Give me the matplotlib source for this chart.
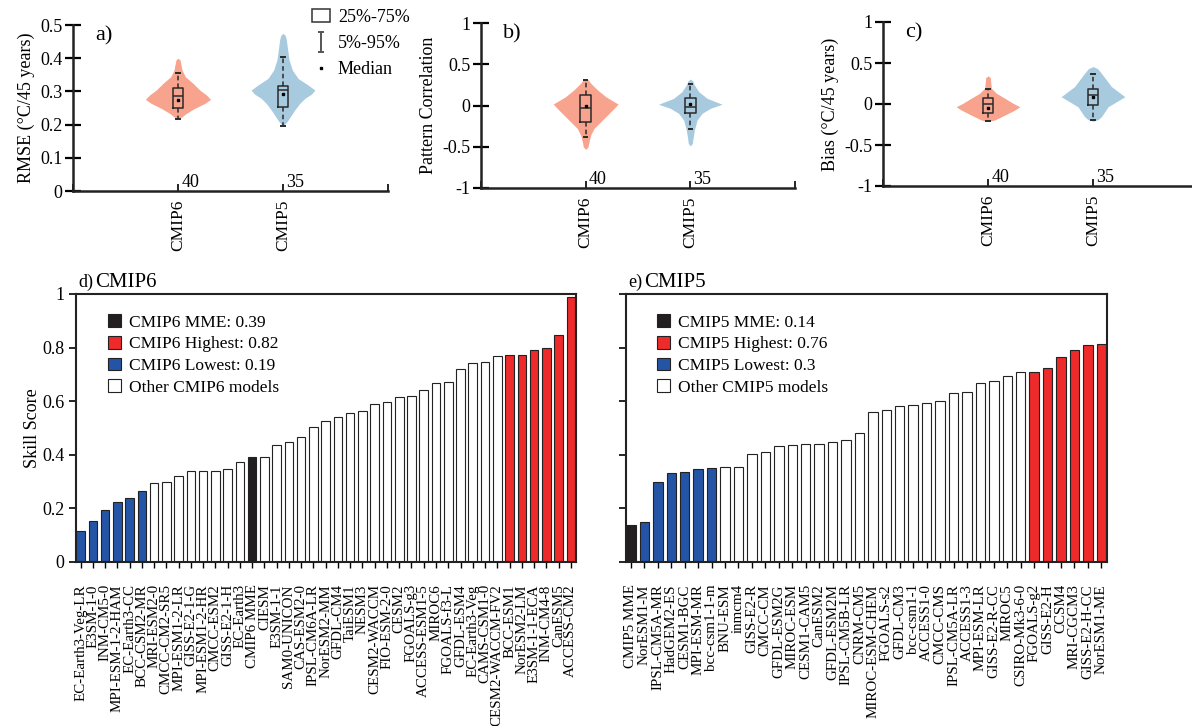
import numpy as np
import matplotlib
matplotlib.use('Agg')
import matplotlib.pyplot as plt
from matplotlib.patches import Patch
from matplotlib.lines import Line2D
from matplotlib.path import Path

plt.rcParams['font.family'] = ['Liberation Serif', 'DejaVu Serif']

# ---------------- top panels (a-c) ----------------
groups = ['CMIP6', 'CMIP5']
counts = [40, 35]
violin_colors = ['#F8A38D', '#A8CADF']

# violin outlines: value levels and relative half-widths
rmse6_lev = [0.216, 0.222, 0.234, 0.249, 0.264, 0.276, 0.289, 0.304, 0.324, 0.344, 0.364, 0.385, 0.395, 0.400]
rmse6_wid = [0, 10, 25, 50, 80, 97, 85, 65, 45, 22, 12, 8, 6, 0]
rmse5_lev = [0.196, 0.209, 0.224, 0.244, 0.264, 0.279, 0.292, 0.304, 0.319, 0.339, 0.364, 0.395, 0.425, 0.455, 0.468, 0.475]
rmse5_wid = [0, 12, 22, 35, 50, 65, 85, 95, 75, 45, 28, 18, 14, 10, 7, 0]
corr6_lev = [-0.533, -0.50, -0.44, -0.359, -0.278, -0.197, -0.116, -0.035, 0.018, 0.046, 0.107, 0.19, 0.27, 0.31, 0.33]
corr6_wid = [0, 7, 10, 15, 25, 45, 65, 85, 97, 85, 60, 35, 15, 8, 0]
corr5_lev = [-0.49, -0.46, -0.40, -0.298, -0.176, -0.095, -0.034, 0.015, 0.039, 0.087, 0.168, 0.25, 0.30, 0.32]
corr5_wid = [0, 6, 8, 12, 20, 35, 60, 95, 80, 50, 25, 12, 7, 0]
bias6_lev = [-0.212, -0.195, -0.175, -0.135, -0.073, -0.033, 0.008, 0.07, 0.131, 0.192, 0.273, 0.32, 0.343]
bias6_wid = [0, 20, 30, 50, 80, 95, 75, 50, 25, 10, 8, 7, 0]
bias5_lev = [-0.21, -0.19, -0.155, -0.094, -0.033, 0.028, 0.089, 0.151, 0.212, 0.294, 0.375, 0.43, 0.457]
bias5_wid = [0, 15, 25, 35, 45, 70, 95, 75, 55, 40, 25, 14, 0]

# box statistics (CMIP6, CMIP5)
rmse_q1 = [0.249, 0.254]
rmse_q3 = [0.309, 0.316]
rmse_line = [0.286, 0.303]
rmse_median = [0.275, 0.292]
rmse_p5 = [0.218, 0.197]
rmse_p95 = [0.354, 0.405]

corr_q1 = [-0.197, -0.095]
corr_q3 = [0.125, 0.093]
corr_line = [-0.033, -0.014]
corr_median = [0.0, 0.013]
corr_p5 = [-0.38, -0.28]
corr_p95 = [0.31, 0.26]

bias_q1 = [-0.106, -0.014]
bias_q3 = [0.068, 0.184]
bias_line = [0.0, 0.108]
bias_median = [-0.045, 0.08]
bias_p5 = [-0.204, -0.19]
bias_p95 = [0.18, 0.367]

# ---------------- bottom panels (d, e) ----------------
cmip6_models = ['EC-Earth3-Veg-LR', 'E3SM-1-0', 'INM-CM5-0', 'MPI-ESM-1-2-HAM', 'EC-Earth3-CC',
                'BCC-CSM2-MR', 'MRI-ESM2-0', 'CMCC-CM2-SR5', 'MPI-ESM1-2-LR', 'GISS-E2-1-G',
                'MPI-ESM1-2-HR', 'CMCC-ESM2', 'GISS-E2-1-H', 'EC-Earth3', 'CMIP6 MME', 'CIESM',
                'E3SM-1-1', 'SAM0-UNICON', 'CAS-ESM2-0', 'IPSL-CM6A-LR', 'NorESM2-MM', 'GFDL-CM4',
                'TaiESM1', 'NESM3', 'CESM2-WACCM', 'FIO-ESM-2-0', 'CESM2', 'FGOALS-g3',
                'ACCESS-ESM1-5', 'MIROC6', 'FGOALS-f3-L', 'GFDL-ESM4', 'EC-Earth3-Veg',
                'CAMS-CSM1-0', 'CESM2-WACCM-FV2', 'BCC-ESM1', 'NorESM2-LM', 'E3SM-1-1-ECA',
                'INM-CM4-8', 'CanESM5', 'ACCESS-CM2']
cmip6_scores = [0.114, 0.154, 0.195, 0.225, 0.239, 0.266, 0.295, 0.299, 0.322, 0.338, 0.341,
                0.341, 0.346, 0.373, 0.392, 0.393, 0.435, 0.448, 0.465, 0.502, 0.526, 0.541,
                0.555, 0.565, 0.588, 0.597, 0.614, 0.621, 0.643, 0.667, 0.670, 0.720, 0.741,
                0.746, 0.769, 0.772, 0.772, 0.792, 0.797, 0.846, 0.988]
cmip6_cat = ['low'] * 6 + ['other'] * 8 + ['mme'] + ['other'] * 20 + ['high'] * 6

cmip5_models = ['CMIP5 MME', 'NorESM1-M', 'IPSL-CM5A-MR', 'HadGEM2-ES', 'CESM1-BGC', 'MPI-ESM-MR',
                'bcc-csm1-1-m', 'BNU-ESM', 'inmcm4', 'GISS-E2-R', 'CMCC-CM', 'GFDL-ESM2G',
                'MIROC-ESM', 'CESM1-CAM5', 'CanESM2', 'GFDL-ESM2M', 'IPSL-CM5B-LR', 'CNRM-CM5',
                'MIROC-ESM-CHEM', 'FGOALS-s2', 'GFDL-CM3', 'bcc-csm1-1', 'ACCESS1-0', 'CMCC-CMS',
                'IPSL-CM5A-LR', 'ACCESS1-3', 'MPI-ESM-LR', 'GISS-E2-R-CC', 'MIROC5',
                'CSIRO-Mk3-6-0', 'FGOALS-g2', 'GISS-E2-H', 'CCSM4', 'MRI-CGCM3', 'GISS-E2-H-CC',
                'NorESM1-ME']
cmip5_scores = [0.139, 0.148, 0.300, 0.332, 0.336, 0.346, 0.351, 0.353, 0.353, 0.404, 0.409,
                0.432, 0.437, 0.439, 0.442, 0.448, 0.456, 0.481, 0.558, 0.566, 0.582, 0.585,
                0.593, 0.601, 0.629, 0.633, 0.668, 0.675, 0.694, 0.709, 0.709, 0.725, 0.764,
                0.791, 0.808, 0.813]
cmip5_cat = ['mme'] + ['low'] * 6 + ['other'] * 23 + ['high'] * 6

cmip6_legend = {'mme': 0.39, 'high': 0.82, 'low': 0.19}
cmip5_legend = {'mme': 0.14, 'high': 0.76, 'low': 0.3}

bar_colors = {'mme': '#231F20', 'high': '#EE2A2A', 'low': '#2454A5', 'other': 'white'}

W, H = 1192, 726
fig = plt.figure(figsize=(W / 100, H / 100), dpi=100)


def fbox(l, t, r, b):
    return [l / W, 1 - b / H, (r - l) / W, (b - t) / H]


def violin_panel(ax, profiles, q1, q3, line, med, p5, p95, ylim, yticks, yticklabels, ylabel, tag):
    positions = [1, 2]
    for pos, (lev, wid), col in zip(positions, profiles, violin_colors):
        lev = np.asarray(lev)
        hw = np.asarray(wid) / 97.0 * 0.31
        ax.fill_betweenx(lev, pos - hw, pos + hw, color=col, lw=0, zorder=1)
    stats = []
    for i in range(2):
        stats.append(dict(q1=q1[i], q3=q3[i], med=line[i], mean=med[i],
                          whislo=p5[i], whishi=p95[i], fliers=[]))
    ax.bxp(stats, positions=positions, widths=0.1, showmeans=True, showfliers=False,
           manage_ticks=False, capwidths=0.035,
           boxprops=dict(color='#2a2a2a', lw=1.1),
           medianprops=dict(color='#2a2a2a', lw=1.1),
           whiskerprops=dict(color='#2a2a2a', lw=1.1, linestyle=(0, (3, 2))),
           capprops=dict(color='#2a2a2a', lw=1.4),
           meanprops=dict(marker='s', markersize=2, markerfacecolor='black',
                          markeredgecolor='black'))
    ax.set_xlim(0, 3)
    ax.set_ylim(*ylim)
    ax.set_yticks(yticks)
    ax.set_yticklabels(yticklabels)
    ax.set_xticks([0, 1, 2, 3])
    ax.set_xticklabels(['', groups[0], groups[1], ''], rotation=90)
    for s in ['top', 'right']:
        ax.spines[s].set_visible(False)
    for s in ['left', 'bottom']:
        ax.spines[s].set_linewidth(1.8)
        ax.spines[s].set_color('#222222')
    ax.tick_params(axis='y', direction='inout', length=11, width=1.6, labelsize=13, pad=2)
    ax.tick_params(axis='x', direction='in', length=5, width=1.2, labelsize=12.5, pad=6)
    ax.set_ylabel(ylabel, fontsize=13)
    for pos, n in zip(positions, counts):
        ax.text(pos + 0.03, ylim[0], str(n), ha='left', va='bottom', fontsize=13)
    ax.text(0.07, 0.99, tag, transform=ax.transAxes, ha='left', va='top', fontsize=16)


ax_a = fig.add_axes(fbox(73, 25, 388, 191))
violin_panel(ax_a, [(rmse6_lev, rmse6_wid), (rmse5_lev, rmse5_wid)],
             rmse_q1, rmse_q3, rmse_line, rmse_median, rmse_p5, rmse_p95,
             (0, 0.5), [0, 0.1, 0.2, 0.3, 0.4, 0.5], ['0', '0.1', '0.2', '0.3', '0.4', '0.5'],
             'RMSE (\u00b0C/45 years)', 'a)')
ax_b = fig.add_axes(fbox(481, 23, 795, 188))
violin_panel(ax_b, [(corr6_lev, corr6_wid), (corr5_lev, corr5_wid)],
             corr_q1, corr_q3, corr_line, corr_median, corr_p5, corr_p95,
             (-1, 1), [-1, -0.5, 0, 0.5, 1], ['-1', '-0.5', '0', '0.5', '1'],
             'Pattern Correlation', 'b)')
ax_c = fig.add_axes(fbox(883, 22, 1198, 186))
violin_panel(ax_c, [(bias6_lev, bias6_wid), (bias5_lev, bias5_wid)],
             bias_q1, bias_q3, bias_line, bias_median, bias_p5, bias_p95,
             (-1, 1), [-1, -0.5, 0, 0.5, 1], ['-1', '-0.5', '0', '0.5', '1'],
             'Bias (\u00b0C/45 years)', 'c)')

# legend for panel a
ibeam = Path([(-0.35, 1), (0.35, 1), (0, 1), (0, -1), (-0.35, -1), (0.35, -1)],
             [Path.MOVETO, Path.LINETO, Path.MOVETO, Path.LINETO, Path.MOVETO, Path.LINETO])
leg_handles = [Patch(facecolor='white', edgecolor='#333333', lw=1.1),
               Line2D([], [], marker=ibeam, markersize=14, color='#555555', lw=0,
                      markeredgewidth=1.4),
               Line2D([], [], marker='s', markersize=2, color='black', lw=0)]
ax_a.legend(leg_handles, ['25%-75%', '5%-95%', 'Median'], loc='upper left',
            bbox_to_anchor=(0.735, 1.14), frameon=False, fontsize=13, handlelength=1.0,
            handleheight=0.7, handletextpad=0.45, labelspacing=0.5, borderaxespad=0)


def bar_panel(ax, models, scores, cats, legend_vals, name, tag, show_ylabels):
    x = np.arange(len(models))
    colors = [bar_colors[c] for c in cats]
    ax.bar(x, scores, width=0.7, color=colors, edgecolor='#222222', linewidth=0.8, zorder=2)
    ax.set_xlim(-0.37, len(models) - 0.58)
    ax.set_ylim(0, 1)
    ax.set_yticks([0, 0.2, 0.4, 0.6, 0.8, 1])
    if show_ylabels:
        ax.set_yticklabels(['0', '0.2', '0.4', '0.6', '0.8', '1'])
        ax.set_ylabel('Skill Score', fontsize=13, labelpad=1)
    else:
        ax.set_yticklabels([])
    ax.set_xticks(x)
    ax.set_xticklabels(models, rotation=90, fontsize=10.8)
    ax.tick_params(axis='x', direction='out', length=4, width=1.0, pad=12)
    ax.tick_params(axis='y', direction='out', length=5, width=1.2, labelsize=13)
    for s in ax.spines.values():
        s.set_linewidth(1.5)
        s.set_color('#222222')
    handles = [Patch(facecolor=bar_colors[k], edgecolor='#222222', lw=0.8)
               for k in ['mme', 'high', 'low', 'other']]
    labels = [f'{name} MME: {legend_vals["mme"]}', f'{name} Highest: {legend_vals["high"]}',
              f'{name} Lowest: {legend_vals["low"]}', f'Other {name} models']
    ax.legend(handles, labels, loc='upper left', bbox_to_anchor=(0.05, 0.95), frameon=False,
              fontsize=12.5, handlelength=0.75, handleheight=0.75, handletextpad=0.45,
              labelspacing=0.3, borderaxespad=0)
    ax.text(0.004, 1.025, tag, transform=ax.transAxes, ha='left', va='baseline', fontsize=13)
    ax.text(0.038, 1.025, name, transform=ax.transAxes, ha='left', va='baseline', fontsize=15)


ax_d = fig.add_axes(fbox(76, 294, 576, 562))
bar_panel(ax_d, cmip6_models, cmip6_scores, cmip6_cat, cmip6_legend, 'CMIP6', 'd)', True)
ax_e = fig.add_axes(fbox(626, 294, 1107, 562))
bar_panel(ax_e, cmip5_models, cmip5_scores, cmip5_cat, cmip5_legend, 'CMIP5', 'e)', False)

fig.savefig('out.png', dpi=100)
